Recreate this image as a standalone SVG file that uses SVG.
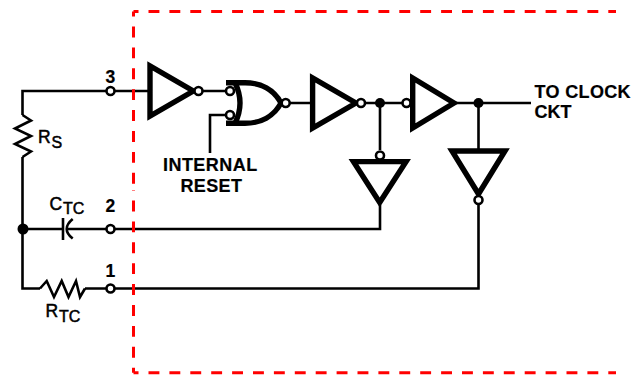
<svg xmlns="http://www.w3.org/2000/svg" width="641" height="376" viewBox="0 0 641 376">
<style>
.w{fill:none;stroke:#000;stroke-width:2.6}
.g{fill:none;stroke:#000;stroke-width:5.400;stroke-linejoin:miter}
.b{fill:#fff;stroke:#000;stroke-width:2.600}
.d{fill:#000}
.r{fill:none;stroke:#f00;stroke-width:3;stroke-dasharray:10.900 10;stroke-dashoffset:5.900}
text{font-family:"Liberation Sans",Arial,sans-serif;font-weight:bold;font-size:18px;fill:#000;stroke:#000;stroke-width:.2}
.l{font-weight:normal;stroke:#000;stroke-width:.5;font-size:17.500px}
.u{font-weight:normal;stroke:#000;stroke-width:.5;font-size:16px}
</style>
<g id="connectors">
<path class="w" d="M106 91H22.500V115M22.500 157V288.500H40M85 288.500H106M22.500 229H63M67 229H106M115 229H380V205M115 288.500H478.500V204M115 91H149M203 91H226M210 153V115H226M290 103H311M366 103H402M380 103V150M456 103H531M478.500 103V150"/>
</g>
<g id="boundary"><path class="r" d="M133.500 11.500H616M133.500 372.700H616M133.500 11.500V190M133.500 372.700V190"/></g>
<g id="rs"><path class="w" d="M22.500 115L31 120.500 15 128.500 31 136 15 144 31 151.500 22.500 157"/><text x="38" y="142.700" class="l">R</text><text x="51.500" y="147.700" class="u">S</text></g>
<g id="ctc"><path class="w" d="M63 218V240M72.700 219Q60.700 229 72.700 238.500"/><text x="49.500" y="210" class="l">C</text><text x="63" y="214" class="u">TC</text></g>
<g id="rtc"><path class="w" d="M40 288.500L46.700 281 54 297 61.700 281 68.500 297 76 281 80 297 85 288.500"/><text x="45.500" y="316.700" class="l">R</text><text x="59" y="322" class="u">TC</text></g>
<g id="pin3"><circle class="b" cx="110.500" cy="91" r="4"/><text x="105.500" y="82.700" style="font-size:17.500px">3</text></g>
<g id="pin2"><circle class="b" cx="110.500" cy="229" r="4"/><text x="105.500" y="212" style="font-size:17.500px">2</text></g>
<g id="pin1"><circle class="b" cx="110.500" cy="288.500" r="4"/><text x="105.500" y="277" style="font-size:17.500px">1</text></g>
<g id="inv1"><path class="g" d="M150 66V116L193.300 91Z"/><circle class="b" cx="198.500" cy="91" r="4"/></g>
<g id="nor"><path class="g" d="M226 82.700H245C261 82.700 274 90 281 103 274 116 261 123.300 245 123.300H226M235 82.700Q245 103 235 123.300"/><circle class="b" cx="230" cy="91" r="4"/><circle class="b" cx="230" cy="115" r="4"/><circle class="b" cx="285.700" cy="103" r="4"/></g>
<g id="reset"><text x="163" y="170.700" style="letter-spacing:.45px">INTERNAL</text><text x="180.500" y="191.700" style="letter-spacing:.35px">RESET</text></g>
<g id="inv2"><path class="g" d="M312.600 78V128L355.900 103Z"/><circle class="b" cx="361" cy="103" r="4"/></g>
<g id="inv3"><path class="g" d="M412.700 78V128L454 103Z"/><circle class="b" cx="406.500" cy="103" r="4"/></g>
<g id="inv4"><path class="g" d="M353.500 161.600H406L379.700 202.500Z"/><circle class="b" cx="380" cy="155.500" r="4"/></g>
<g id="inv5"><path class="g" d="M452 151H505L478.500 194Z"/><circle class="b" cx="478.500" cy="200" r="4"/></g>
<g id="dots"><circle class="d" cx="23" cy="229" r="5.500"/><circle class="d" cx="380" cy="103" r="5"/><circle class="d" cx="478.500" cy="103" r="5"/></g>
<g id="out"><text x="534.500" y="98.300" style="letter-spacing:.35px">TO CLOCK</text><text x="534.500" y="118.300">CKT</text></g>
</svg>
